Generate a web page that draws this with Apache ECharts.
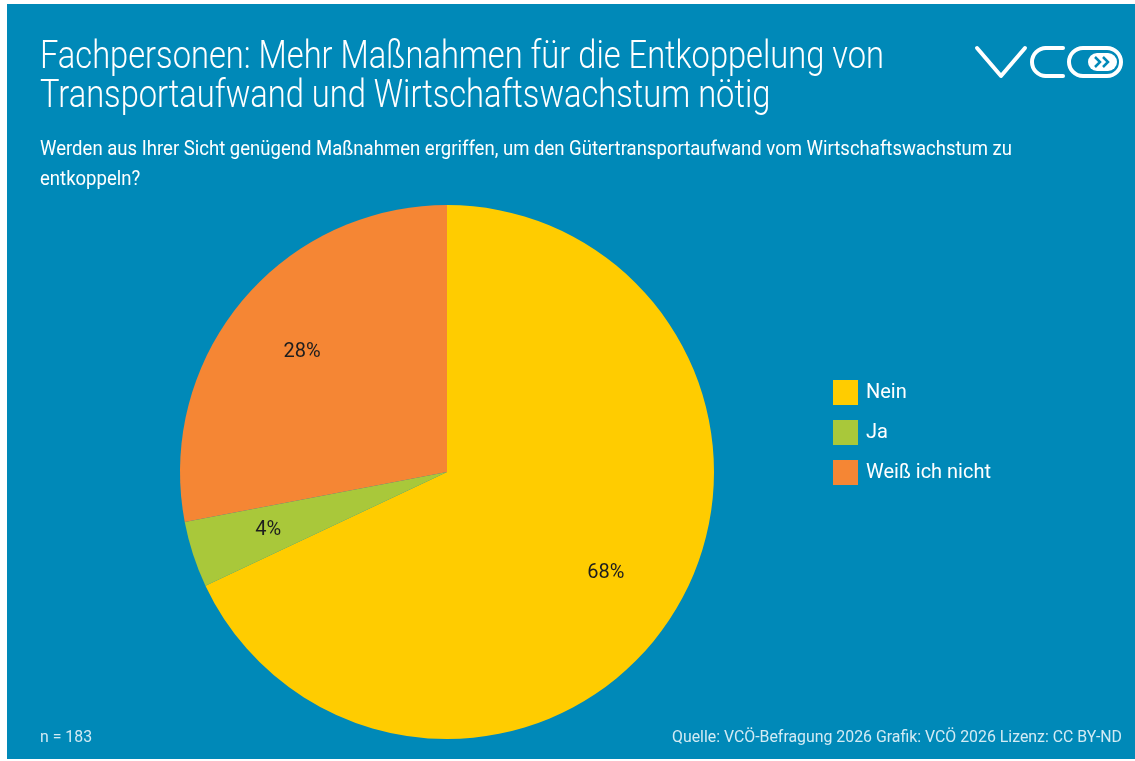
<!DOCTYPE html>
<html>
<head>
<meta charset="utf-8">
<script src="https://cdn.jsdelivr.net/npm/echarts@6/dist/echarts.min.js"></script>
<style>
  html, body { margin: 0; padding: 0; background: #fff; }
  #chart { width: 1135px; height: 761px; }
</style>
</head>
<body>
<div id="chart"></div>
<script>
const categories = ['Nein', 'Ja', 'Weiß ich nicht']
const shares = [68, 4, 28]
const colors = ['#ffcc00', '#a9c83a', '#f58634']

const titleLines = ['Fachpersonen: Mehr Maßnahmen für die Entkoppelung von', 'Transportaufwand und Wirtschaftswachstum nötig']
const subtitleLines = ['Werden aus Ihrer Sicht genügend Maßnahmen ergriffen, um den Gütertransportaufwand vom Wirtschaftswachstum zu', 'entkoppeln?']
const sampleNote = 'n = 183'
const sourceNote = 'Quelle: VCÖ-Befragung 2026 Grafik: VCÖ 2026 Lizenz: CC BY-ND'

const FONT = 'Roboto, "Liberation Sans", Arial, sans-serif'
const BLUE = '#0089b8'

// die Originalschrift ist schmal (condensed) -> horizontal stauchen
const measureCtx = document.createElement('canvas').getContext('2d')
function squeeze(text, font, width) {
  measureCtx.font = font
  return Math.min(1, width / measureCtx.measureText(text).width)
}

const titleScale = squeeze(titleLines[0], '300 38px Roboto', 844)
const subScale = squeeze(subtitleLines[0], '400 21px Roboto', 972)
const noteScale = squeeze(sourceNote, '400 16px Roboto', 450)

function textEl(text, x, y, size, weight, scale, color, align) {
  return {
    type: 'text',
    x,
    y,
    scaleX: scale,
    silent: true,
    style: {
      text,
      x: 0,
      y: 0,
      fill: color,
      font: weight + ' ' + size + 'px ' + FONT,
      align: align || 'left',
      verticalAlign: 'middle',
    },
  }
}

const chart = echarts.init(document.getElementById('chart'))

// logo "VCÖ" aus Linien
const logo = [
  { type: 'polyline', shape: { points: [[977, 48], [1001, 76], [1025, 48]] } },
  { type: 'polyline', shape: { points: [[1063, 48], [1046, 48]] } },
  { type: 'arc', shape: { cx: 1046, cy: 62, r: 14, startAngle: Math.PI / 2, endAngle: Math.PI * 1.5, clockwise: true } },
  { type: 'polyline', shape: { points: [[1046, 76], [1063, 76]] } },
  { type: 'rect', shape: { x: 1069, y: 48, width: 52, height: 28, r: 14 } },
].map((el) => ({
  ...el,
  style: { stroke: '#fff', lineWidth: 4, fill: null, lineCap: 'round', lineJoin: 'round' },
  silent: true,
}))

logo.push(
  { type: 'rect', shape: { x: 1088, y: 53, width: 29, height: 18, r: 9 }, style: { fill: '#fff' }, silent: true },
  { type: 'polyline', shape: { points: [[1095, 57], [1100, 62], [1095, 67]] }, style: { stroke: BLUE, lineWidth: 2.5, fill: null }, silent: true },
  { type: 'polyline', shape: { points: [[1103, 57], [1108, 62], [1103, 67]] }, style: { stroke: BLUE, lineWidth: 2.5, fill: null }, silent: true }
)

const option = {
  backgroundColor: '#fff',
  animation: false,
  graphic: [
    { type: 'rect', shape: { x: 7, y: 4, width: 1128, height: 755 }, style: { fill: BLUE }, z: -10, silent: true },
    ...logo,
    textEl(titleLines[0], 40, 58, 38, 300, titleScale, '#fff'),
    textEl(titleLines[1], 40, 97, 38, 300, titleScale, '#fff'),
    textEl(subtitleLines[0], 40, 150, 21, 400, subScale, '#fff'),
    textEl(subtitleLines[1], 40, 180, 21, 400, subScale, '#fff'),
    textEl(sampleNote, 40, 738, 16, 400, noteScale, '#d2ebf4'),
    textEl(sourceNote, 1122, 738, 16, 400, noteScale, '#d2ebf4', 'right'),
  ],
  legend: {
    orient: 'vertical',
    left: 833,
    top: 380,
    padding: 0,
    itemWidth: 25,
    itemHeight: 25,
    itemGap: 15,
    icon: 'rect',
    data: categories,
    textStyle: { color: '#fff', fontFamily: FONT, fontSize: 20, padding: [0, 0, 0, 3] },
  },
  series: [
    {
      type: 'pie',
      center: [447, 472],
      radius: [0, 267],
      startAngle: 90,
      clockwise: true,
      label: { show: false },
      labelLine: { show: false },
      silent: true,
      data: categories.map((name, i) => ({ name, value: shares[i], itemStyle: { color: colors[i] } })),
    },
    {
      // nur für die Beschriftung
      type: 'pie',
      center: [447, 472],
      radius: [0, 370],
      startAngle: 90,
      clockwise: true,
      silent: true,
      label: {
        show: true,
        position: 'inside',
        formatter: '{c}%',
        color: '#1e1e1e',
        fontFamily: FONT,
        fontSize: 20,
      },
      labelLine: { show: false },
      data: categories.map((name, i) => ({ name, value: shares[i], itemStyle: { color: 'rgba(0,0,0,0)' } })),
    },
  ],
}

chart.setOption(option)
</script>
</body>
</html>
